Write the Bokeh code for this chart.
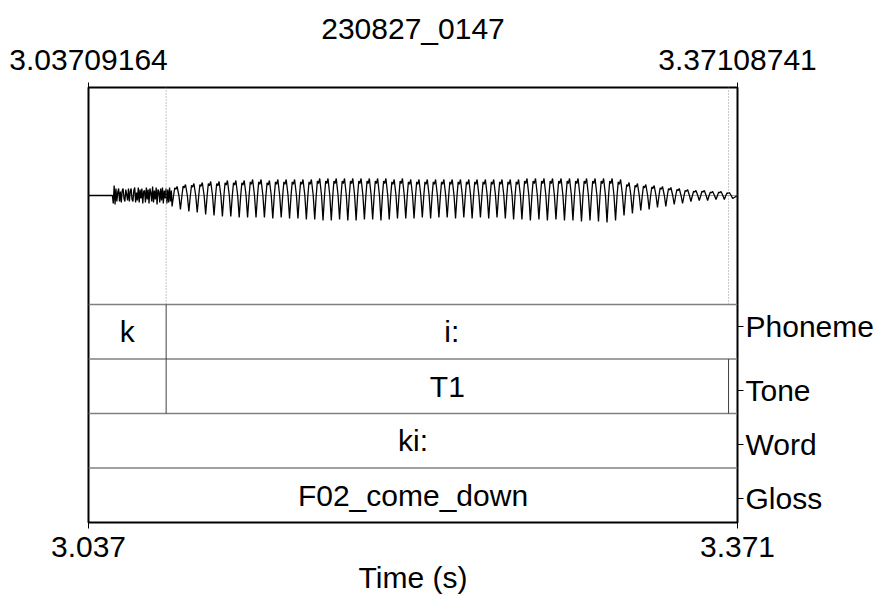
import numpy as np
from bokeh.plotting import figure
from bokeh.models import Range1d, LinearAxis, FixedTicker
from bokeh.embed import file_html
from bokeh.resources import INLINE
from bokeh.core.properties import value

# ---------------- data ----------------
title_text = "230827_0147"
t_start = 3.03709164
t_end = 3.37108741
top_tick_labels = ["3.03709164", "3.37108741"]
bottom_tick_labels = ["3.037", "3.371"]
x_label = "Time (s)"

tier_names = ["Phoneme", "Tone", "Word", "Gloss"]
tier_name_pos = [3.60, 2.42, 1.43, 0.44]

phoneme_bounds = [t_start, 3.07705, t_end]
phoneme_labels = ["k", "i:"]
tone_bounds = [t_start, 3.07705, 3.36648, t_end]
tone_labels = ["", "T1", ""]
word_bounds = [t_start, t_end]
word_labels = ["ki:"]
gloss_bounds = [t_start, t_end]
gloss_labels = ["F02_come_down"]
dotted_bounds = [3.07705, 3.36648]

# waveform: burst noise of the stop, then voiced cycles (amplitudes in arbitrary units)
noise_start = 3.04938
noise_step_ms = 0.46
noise_amp = [0, -8, 10, -9, 7, -6, 3, 7, -6, 4, -7, 5, 7, -3, -6, 6, 1, -5, 7, -6,
             4, 7, -4, -6, 5, 8, -7, 3, -5, 8, -7, 6, -3, 7, -8, 4, 5, -7, 8, -4,
             6, -8, 7, 3, -6, 9, -7, 5, -4, 8, -9, 6, 4, -7, 7, -5, 8, -8, 5, -3,
             7, -8, 6, -7, 8, -6, 5]

voicing_start = 3.0801
periods_ms = [4.30, 4.34, 4.31, 4.33, 4.32, 4.30, 4.33, 4.32, 4.31, 4.34, 4.32, 4.31, 4.33, 4.30, 4.32, 4.33, 4.31,
              4.27, 4.25, 4.26, 4.24, 4.28, 4.26, 4.25, 4.27, 4.26, 4.24, 4.27, 4.26, 4.25,
              4.28, 4.26, 4.27, 4.29, 4.26, 4.28, 4.27, 4.26, 4.28, 4.27, 4.26, 4.28,
              4.36, 4.39, 4.37, 4.40, 4.38, 4.36, 4.39, 4.38, 4.37, 4.40, 4.38, 4.37,
              4.32, 4.30, 4.31, 4.29, 4.30, 4.32, 4.28, 4.31, 4.30, 4.29, 4.31, 4.30, 4.29]
peak_amp = [9, 11, 12, 13, 14, 14, 15, 15, 15, 16,
            16, 15, 16, 16, 16, 16, 16, 17, 17, 17,
            17, 17, 17, 17, 17, 17, 16, 17, 16, 16,
            16, 16, 16, 16, 16, 16, 16, 16, 16, 16,
            16, 16, 17, 17, 17, 17, 17, 17, 17, 17,
            17, 17, 17, 16, 13, 12, 11, 10, 9, 8,
            7, 6, 5, 5, 4, 4, 3]
trough_amp = [11, 14, 16, 17, 19, 20, 21, 21, 22, 22,
              22, 22, 23, 22, 23, 23, 24, 24, 25, 25,
              24, 25, 25, 24, 24, 25, 24, 23, 23, 23,
              22, 23, 22, 22, 23, 22, 23, 22, 23, 22,
              23, 24, 24, 25, 24, 25, 24, 25, 25, 26,
              25, 26, 27, 25, 20, 18, 15, 14, 12, 11,
              9, 8, 6, 5, 5, 4, 4, 3]

# ---------------- build waveform polyline ----------------
wx = [t_start, noise_start]
wy = [0.0, 0.0]
for i, a in enumerate(noise_amp):
    wx.append(noise_start + i * noise_step_ms / 1000.0)
    wy.append(a)
trough_t = voicing_start + np.concatenate([[0.0], np.cumsum(periods_ms)]) / 1000.0
shape_phase = [0.18, 0.32, 0.45, 0.60, 0.82]
shape_frac = [0.0, 0.85, 0.70, 1.0, 0.0]
for k in range(len(peak_amp)):
    t0 = trough_t[k]
    per = trough_t[k + 1] - t0
    wx.append(t0)
    wy.append(-trough_amp[k])
    for ph, fr in zip(shape_phase, shape_frac):
        wx.append(t0 + ph * per)
        wy.append(fr * peak_amp[k])
wx.append(trough_t[-1])
wy.append(-trough_amp[-1])
wx.append(t_end)
wy.append(0.0)

# ---------------- figure ----------------
FONT = "Liberation Sans"
FS = "30px"
tier_top = 4.0
tier_px = 54.5
y_end = 435 / tier_px

p = figure(width=876, height=597, output_backend="svg", toolbar_location=None,
           x_range=Range1d(t_start, t_end), y_range=Range1d(0, y_end),
           x_axis_location=None, y_axis_location=None,
           min_border_left=88, min_border_right=136, min_border_top=87, min_border_bottom=75,
           background_fill_color="white", border_fill_color="white")
p.grid.visible = False
p.outline_line_color = "black"
p.outline_line_width = 2
p.extra_y_ranges = {"wave": Range1d(-327, 108)}

def style_axis(ax):
    ax.axis_line_color = None
    ax.major_tick_line_color = "black"
    ax.major_tick_line_width = 1
    ax.major_tick_in = 0
    ax.major_tick_out = 6
    ax.minor_tick_line_color = None
    ax.major_label_text_font = FONT
    ax.major_label_text_font_size = FS
    ax.major_label_text_color = "black"
    ax.axis_label_text_font = FONT
    ax.axis_label_text_font_size = FS
    ax.axis_label_text_font_style = "normal"
    ax.axis_label_text_color = "black"

bottom = LinearAxis(ticker=FixedTicker(ticks=[t_start, t_end], minor_ticks=[]),
                    major_label_overrides={t_start: bottom_tick_labels[0], t_end: bottom_tick_labels[1]},
                    axis_label=x_label)
style_axis(bottom)
bottom.major_label_standoff = 8
bottom.axis_label_standoff = 1
p.add_layout(bottom, "below")

# top axis: exact start/end times, with the sound's name as its label (title)
top = LinearAxis(ticker=FixedTicker(ticks=[t_start, t_end], minor_ticks=[]),
                 major_label_overrides={t_start: top_tick_labels[0], t_end: top_tick_labels[1]},
                 axis_label=title_text)
style_axis(top)
top.major_tick_out = 5
top.major_label_standoff = 13
top.axis_label_standoff = 2
p.add_layout(top, "above")

right = LinearAxis(ticker=FixedTicker(ticks=tier_name_pos, minor_ticks=[]),
                   major_label_overrides={v: n for v, n in zip(tier_name_pos, tier_names)})
style_axis(right)
right.major_label_standoff = 2
p.add_layout(right, "right")

# zero line and waveform
p.line([t_start, t_end], [0, 0], y_range_name="wave", line_color="#a0a0a0", line_width=1)
p.line(wx, wy, y_range_name="wave", line_color="black", line_width=1.3)

# dotted boundary lines in the waveform area
p.segment(x0=dotted_bounds, y0=[tier_top] * len(dotted_bounds), x1=dotted_bounds,
          y1=[y_end] * len(dotted_bounds), line_color="#909090", line_width=1, line_dash="1 2")

# tier separators
p.segment(x0=[t_start] * 4, y0=[1, 2, 3, 4], x1=[t_end] * 4, y1=[1, 2, 3, 4],
          line_color="#808080", line_width=1.5)

tiers = [(phoneme_bounds, phoneme_labels, 3), (tone_bounds, tone_labels, 2),
         (word_bounds, word_labels, 1), (gloss_bounds, gloss_labels, 0)]
for bounds, labels, base in tiers:
    inner = bounds[1:-1]
    if inner:
        p.segment(x0=inner, y0=[base] * len(inner), x1=inner, y1=[base + 1] * len(inner),
                  line_color="#404040", line_width=1)
    cx = [(bounds[i] + bounds[i + 1]) / 2 for i in range(len(labels))]
    p.text(x=cx, y=[base + 0.5] * len(labels), text=labels, text_align="center",
           text_baseline="middle", text_font=value(FONT), text_font_size=value(FS),
           text_color="black")

open("out.html", "w").write(file_html(p, INLINE))
